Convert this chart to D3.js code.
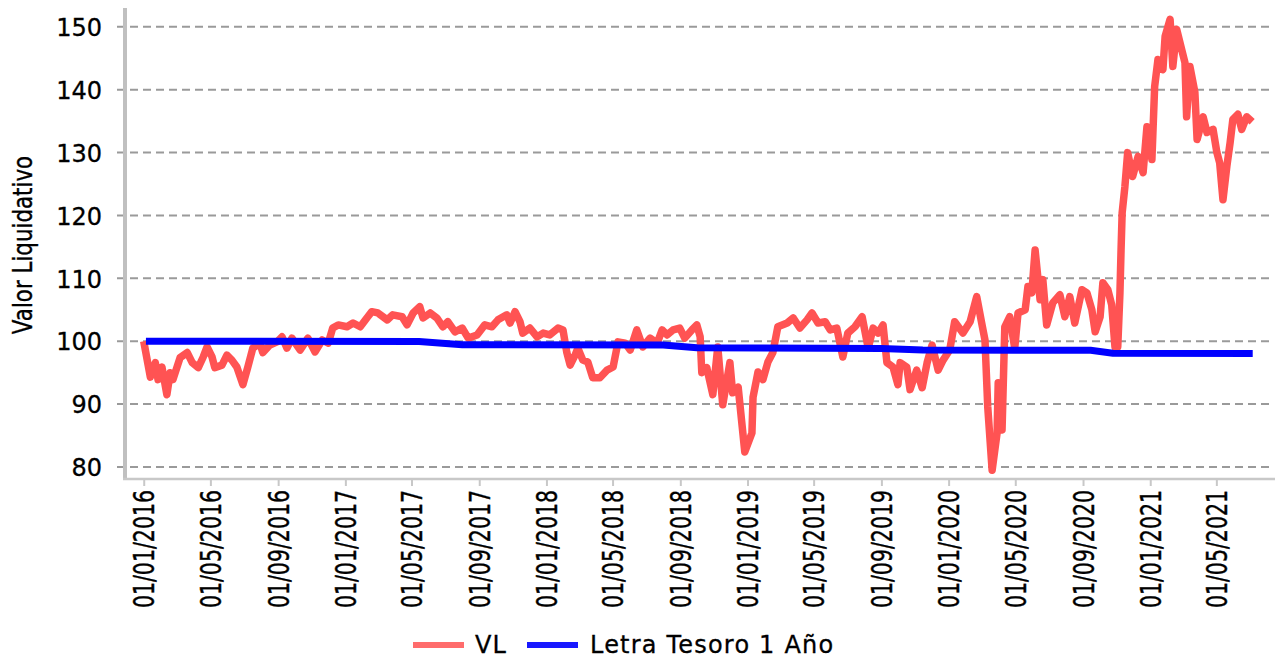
<!DOCTYPE html>
<html>
<head>
<meta charset="utf-8">
<script src="https://cdnjs.cloudflare.com/ajax/libs/d3/7.8.5/d3.min.js"></script>
<style>
  body { margin: 0; background: #fff; }
  text { font-family: "DejaVu Sans", Verdana, sans-serif; fill: #000; stroke: #000; stroke-width: 0.3px; }
</style>
</head>
<body>
<div id="js-chart"></div>
<script>
//  Data: VL (valor liquidativo)
var vlDates = [
  "2016-01-01","2016-01-13","2016-01-22","2016-01-27","2016-02-03","2016-02-12","2016-02-18","2016-02-23","2016-03-07","2016-03-20",
  "2016-03-29","2016-04-09","2016-04-18","2016-04-25","2016-05-04","2016-05-09","2016-05-22","2016-05-31","2016-06-09","2016-06-18",
  "2016-06-29","2016-07-08","2016-07-17","2016-07-30","2016-08-04","2016-08-17","2016-08-30","2016-09-08","2016-09-17","2016-09-26",
  "2016-10-11","2016-10-25","2016-11-07","2016-11-20","2016-12-01","2016-12-09","2016-12-19",
  "2017-01-04","2017-01-15","2017-01-28","2017-02-09","2017-02-18","2017-03-01","2017-03-18","2017-03-28","2017-04-14","2017-04-23",
  "2017-05-04","2017-05-16","2017-05-22","2017-06-04","2017-06-16","2017-06-27","2017-07-06","2017-07-19","2017-08-01","2017-08-12",
  "2017-08-28","2017-09-11","2017-09-24","2017-10-05","2017-10-21","2017-10-27","2017-11-05","2017-11-14","2017-11-19","2017-12-02",
  "2017-12-15","2017-12-26",
  "2018-01-07","2018-01-22","2018-01-31","2018-02-07","2018-02-13","2018-02-22","2018-02-27","2018-03-08","2018-03-17","2018-03-26",
  "2018-04-08","2018-04-21","2018-05-02","2018-05-11","2018-05-24","2018-06-02","2018-06-14","2018-06-25","2018-07-08","2018-07-21",
  "2018-07-30","2018-08-08","2018-08-19","2018-08-31","2018-09-09","2018-09-22","2018-10-01","2018-10-07","2018-10-10","2018-10-19",
  "2018-10-30","2018-11-08","2018-11-17","2018-11-30","2018-12-05","2018-12-15","2018-12-27",
  "2019-01-09","2019-01-11","2019-01-20","2019-01-29","2019-02-07","2019-02-16","2019-02-25","2019-03-14","2019-03-25","2019-04-06",
  "2019-04-19","2019-04-28","2019-05-09","2019-05-22","2019-05-31","2019-06-12","2019-06-23","2019-07-02","2019-07-15","2019-07-28",
  "2019-08-08","2019-08-17","2019-08-26","2019-09-04","2019-09-11","2019-09-22","2019-10-01","2019-10-05","2019-10-17","2019-10-23",
  "2019-11-04","2019-11-14","2019-11-23","2019-12-02","2019-12-13","2019-12-22",
  "2020-01-03","2020-01-12","2020-01-27","2020-02-09","2020-02-21","2020-03-01","2020-03-07","2020-03-12","2020-03-20","2020-03-29",
  "2020-03-31","2020-04-07","2020-04-12","2020-04-21","2020-04-30","2020-05-06","2020-05-19","2020-05-24","2020-05-31","2020-06-06",
  "2020-06-15","2020-06-20","2020-06-27","2020-07-08","2020-07-21","2020-07-30","2020-08-08","2020-08-17","2020-08-30","2020-09-08",
  "2020-09-17","2020-09-23","2020-10-02","2020-10-07","2020-10-16","2020-10-23","2020-10-29","2020-11-03","2020-11-07","2020-11-09",
  "2020-11-11","2020-11-16","2020-11-21","2020-11-30","2020-12-10","2020-12-19","2020-12-26",
  "2021-01-04","2021-01-09","2021-01-15","2021-01-24","2021-01-28","2021-02-06","2021-02-11","2021-02-18","2021-02-27","2021-03-05",
  "2021-03-08","2021-03-14","2021-03-23","2021-03-27","2021-04-07","2021-04-14","2021-04-25","2021-05-02","2021-05-07","2021-05-13",
  "2021-05-20","2021-05-26","2021-05-31","2021-06-09","2021-06-16","2021-06-25","2021-07-05"
];

var vlValues = [
  100.0, 94.3, 96.6, 93.9, 95.9, 91.5, 95.0, 93.9, 97.4, 98.2,
  96.6, 95.8, 97.5, 99.1, 97.5, 95.8, 96.2, 97.8, 97.0, 95.9,
  93.1, 95.9, 98.9, 99.7, 98.2, 99.4, 99.9, 100.7, 98.9, 100.5,
  98.6, 100.5, 98.3, 100.2, 99.7, 102.1, 102.6,
  102.3, 102.9, 102.3, 103.7, 104.7, 104.5, 103.4, 104.2, 103.9, 102.6,
  104.5, 105.5, 103.7, 104.5, 103.7, 102.3, 103.1, 101.5, 102.1, 100.5,
  101.0, 102.6, 102.3, 103.4, 104.2, 102.9, 104.7, 103.1, 101.3, 102.1,
  100.7, 101.3,
  101.0, 102.1, 101.8, 98.2, 96.2, 97.8, 98.9, 97.0, 96.7, 94.2,
  94.2, 95.4, 95.9, 99.9, 99.7, 98.6, 101.8, 99.1, 100.5, 99.7,
  101.8, 101.0, 101.8, 102.1, 100.5, 101.8, 102.6, 100.7, 95.0, 95.8,
  91.5, 99.1, 89.9, 96.6, 91.8, 92.7, 82.4,
  85.4, 91.1, 95.1, 93.9, 96.7, 98.2, 102.3, 102.9, 103.7, 102.1,
  103.4, 104.5, 102.9, 103.1, 101.8, 102.1, 97.5, 101.3, 102.3, 103.9,
  98.9, 102.1, 101.3, 102.6, 96.6, 95.9, 93.1, 96.6, 95.9, 92.3,
  95.4, 92.6, 96.6, 99.4, 95.4, 97.0,
  98.6, 103.1, 101.3, 103.1, 107.1, 102.9, 100.2, 89.6, 79.5, 85.4,
  93.4, 85.9, 102.3, 103.9, 98.9, 104.5, 105.0, 108.7, 107.7, 114.5,
  106.6, 109.8, 102.6, 106.1, 107.4, 103.9, 107.1, 102.9, 108.2, 107.7,
  105.0, 101.5, 103.9, 109.3, 108.2, 105.8, 99.1, 99.1, 107.7, 114.5,
  120.4, 124.6, 130.0, 126.2, 129.4, 126.8, 134.1,
  128.9, 140.5, 144.8, 143.2, 148.5, 151.2, 143.7, 149.6, 146.4, 144.3,
  135.7, 143.7, 139.6, 132.1, 135.7, 133.2, 133.7, 130.0, 128.4, 122.5,
  127.8, 131.6, 135.3, 136.1, 133.7, 135.7, 134.9
];

//  Data: Letra Tesoro 1 Año
var letraDates  = ["2016-01-05","2017-05-15","2017-08-01","2018-08-01","2018-10-01","2019-09-01","2019-11-15","2020-09-15","2020-10-25","2021-07-06"];
var letraValues = [100.0, 99.95, 99.45, 99.4, 98.95, 98.85, 98.6, 98.55, 98.1, 98.05];

//  Axes
var yTickValues  = [80, 90, 100, 110, 120, 130, 140, 150];
var xTickLabels  = ["01/01/2016","01/05/2016","01/09/2016","01/01/2017","01/05/2017","01/09/2017",
                    "01/01/2018","01/05/2018","01/09/2018","01/01/2019","01/05/2019","01/09/2019",
                    "01/01/2020","01/05/2020","01/09/2020","01/01/2021","01/05/2021"];
var xDomain = ["2015-11-28", "2021-08-10"];
var yDomain = [78.25, 153.0];

var seriesNames  = ["VL", "Letra Tesoro 1 Año"];
var seriesColors = ["#ff5353", "#0000ff"];

// ---------------------------------------------------------------------------------- //

//  Elementary SVG variables
var svg;
var width  = 1275;
var height = 660;

//  Plot area
var plotLeft   = 125;
var plotRight  = 1272;
var plotTop    = 8;
var plotBottom = 478;

var parseDate  = d3.timeParse("%Y-%m-%d");
var parseLabel = d3.timeParse("%d/%m/%Y");

var x, y;

// ---------------------------------------------------------------------------------- //

function Setup()
{
    svg = d3.select("#js-chart")
      .append("svg")
      .attr("width", width)
      .attr("height", height);

    svg.append("rect")
      .attr("width", width)
      .attr("height", height)
      .attr("fill", "white");

    x = d3.scaleTime()
      .domain(xDomain.map(parseDate))
      .range([plotLeft, plotRight]);

    y = d3.scaleLinear()
      .domain(yDomain)
      .range([plotBottom, plotTop]);
}
// ---------------------------------------------------------------------------------- //

function DrawGrid()
{
    // dashed horizontal lines, they start a bit left of the axis
    svg.append("g")
      .selectAll("line")
      .data(yTickValues)
      .join("line")
      .attr("x1", plotLeft - 8)
      .attr("x2", plotRight)
      .attr("y1", d => y(d))
      .attr("y2", d => y(d))
      .style("stroke", "#9a9a9a")
      .style("stroke-width", 2)
      .style("stroke-dasharray", "8,5");
}
// ---------------------------------------------------------------------------------- //

function DrawAxes()
{
    //  Y axis
    var yAxis = svg.append("g")
      .attr("transform", "translate(" + plotLeft + ",0)")
      .call(d3.axisLeft(y).tickValues(yTickValues).tickSize(0).tickPadding(23));

    yAxis.select(".domain").remove();
    yAxis.selectAll("text")
      .style("font-size", "24px")
      .style("font-family", "'DejaVu Sans', Verdana, sans-serif")
      .attr("dy", "0.36em");

    svg.append("line")
      .attr("x1", plotLeft).attr("x2", plotLeft)
      .attr("y1", plotTop).attr("y2", plotBottom + 2)
      .style("stroke", "#c0c0c0")
      .style("stroke-width", 4);

    //  X axis
    var xAxis = svg.append("g")
      .attr("transform", "translate(0," + (plotBottom + 1) + ")")
      .call(d3.axisBottom(x)
        .tickValues(xTickLabels.map(parseLabel))
        .tickFormat(d3.timeFormat("%d/%m/%Y"))
        .tickSize(7));

    xAxis.select(".domain").remove();
    xAxis.selectAll(".tick line")
      .style("stroke", "#c8c8c8")
      .style("stroke-width", 2);

    xAxis.selectAll("text")
      .attr("x", 0)
      .attr("y", 0)
      .attr("dy", "0.36em")
      .attr("transform", "translate(0,11) scale(1.35,1) rotate(-90)")
      .style("text-anchor", "end")
      .style("font-size", "20.5px")
      .style("font-family", "'DejaVu Sans', Verdana, sans-serif");

    svg.append("line")
      .attr("x1", plotLeft - 2).attr("x2", width)
      .attr("y1", plotBottom + 1).attr("y2", plotBottom + 1)
      .style("stroke", "#c8c8c8")
      .style("stroke-width", 2.5);

    //  Y title
    svg.append("text")
      .attr("transform", "translate(32,245) scale(1.22,1) rotate(-90)")
      .attr("text-anchor", "middle")
      .style("font-size", "21.4px")
      .text("Valor Liquidativo");
}
// ---------------------------------------------------------------------------------- //

function DrawLines()
{
    var line = d3.line()
      .x(d => x(d[0]))
      .y(d => y(d[1]));

    var vl = vlDates.map((d, i) => [parseDate(d), vlValues[i]]);
    var letra = letraDates.map((d, i) => [parseDate(d), letraValues[i]]);

    svg.append("path")
      .datum(vl)
      .attr("d", line)
      .attr("fill", "none")
      .style("stroke", seriesColors[0])
      .style("stroke-width", 7.5)
      .style("stroke-linejoin", "round");

    svg.append("path")
      .datum(letra)
      .attr("d", line)
      .attr("fill", "none")
      .style("stroke", seriesColors[1])
      .style("stroke-width", 7);
}
// ---------------------------------------------------------------------------------- //

function DrawLegend()
{
    var legendX = [413, 527];
    var textX   = [475, 590];

    var items = svg.append("g")
      .selectAll("g")
      .data(seriesNames)
      .join("g");

    items.append("line")
      .attr("x1", (d, i) => legendX[i])
      .attr("x2", (d, i) => legendX[i] + 51)
      .attr("y1", 645)
      .attr("y2", 645)
      .style("stroke", (d, i) => seriesColors[i])
      .style("stroke-width", 6)
      .style("opacity", (d, i) => i == 0 ? 0.85 : 0.9);

    items.append("text")
      .attr("x", (d, i) => textX[i])
      .attr("y", 653)
      .style("font-size", "24px")
      .style("letter-spacing", "1.2px")
      .text(d => d);
}
// ---------------------------------------------------------------------------------- //

Setup();
DrawGrid();
DrawAxes();
DrawLines();
DrawLegend();
</script>
</body>
</html>
